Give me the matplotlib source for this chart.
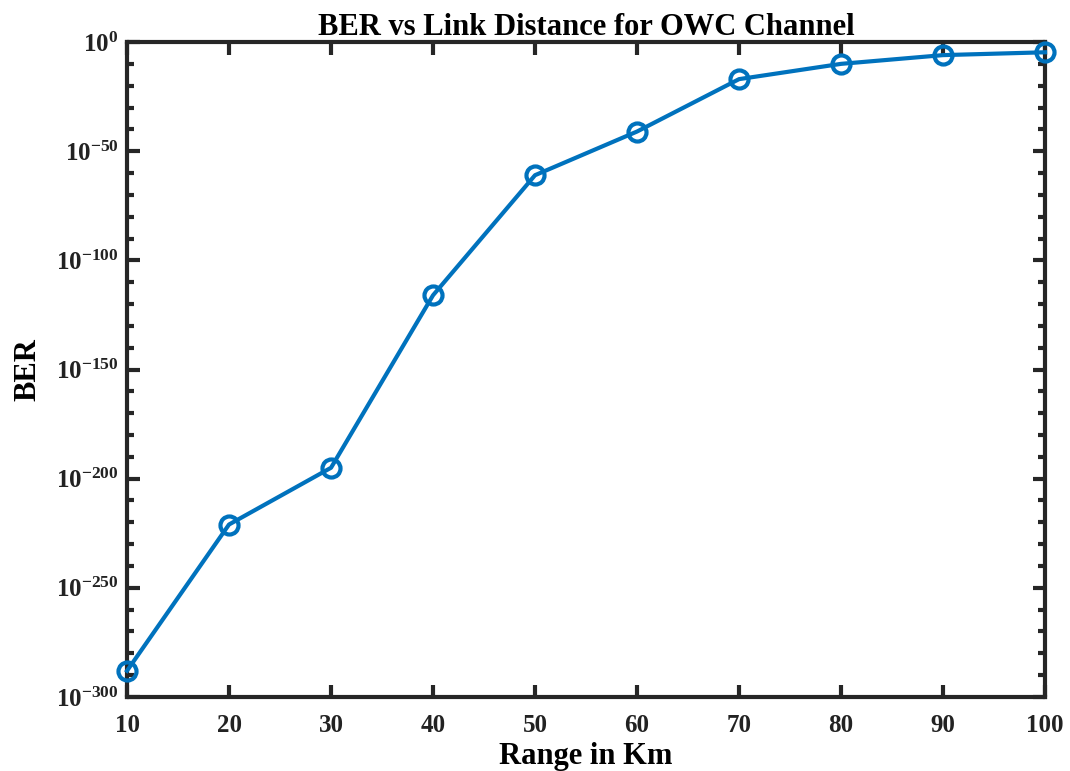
import matplotlib
matplotlib.use('Agg')
import matplotlib.pyplot as plt
from matplotlib.ticker import FixedLocator, FuncFormatter, NullFormatter
import numpy as np

# data
range_km = [10, 20, 30, 40, 50, 60, 70, 80, 90, 100]
ber = [1e-288, 1e-221, 1e-195, 1e-116, 1e-61, 1e-41, 1e-17, 1e-10, 1e-6, 2e-5]

x_ticks = [10, 20, 30, 40, 50, 60, 70, 80, 90, 100]
y_major = [1e-300, 1e-250, 1e-200, 1e-150, 1e-100, 1e-50, 1e0]
y_minor = [10.0 ** (-e) for e in range(0, 301, 10)]

plt.rcParams['font.family'] = 'Liberation Serif'
plt.rcParams['font.weight'] = 'bold'
plt.rcParams['mathtext.fontset'] = 'custom'
plt.rcParams['mathtext.rm'] = 'Liberation Serif:bold'
plt.rcParams['mathtext.default'] = 'rm'

fig = plt.figure(figsize=(10.7, 7.71), dpi=100)
ax = fig.add_axes([0.1187, 0.096, 0.858, 0.8495])

ax.semilogy(range_km, ber, '-o', color='#0072BD', linewidth=3,
            markersize=13, markerfacecolor='none', markeredgewidth=3,
            clip_on=False, zorder=3)

ax.set_xlim(10, 100)
ax.set_ylim(1e-300, 1e0)
ax.set_xticks(x_ticks)
ax.yaxis.set_major_locator(FixedLocator(y_major))
ax.yaxis.set_minor_locator(FixedLocator(y_minor))
ax.yaxis.set_minor_formatter(NullFormatter())
ax.yaxis.set_major_formatter(FuncFormatter(
    lambda v, p: r'$10^{%d}$' % int(round(np.log10(v)))))

for s in ax.spines.values():
    s.set_linewidth(3)
    s.set_color('#262626')

ax.tick_params(which='both', direction='in', top=True, right=True,
               width=3, color='#262626', labelsize=18, labelcolor='#222222')
ax.tick_params(which='major', length=9, pad=6)
ax.tick_params(which='minor', length=5)
ax.tick_params(axis='x', which='major', pad=12)

ax.set_title('BER vs Link Distance for OWC Channel', fontsize=22,
             fontweight='bold', pad=0)
ax.set_xlabel('Range in Km', fontsize=22, fontweight='bold', labelpad=4)
ax.set_ylabel('BER', fontsize=22, fontweight='bold', labelpad=10)

fig.savefig('out.png', dpi=100)
